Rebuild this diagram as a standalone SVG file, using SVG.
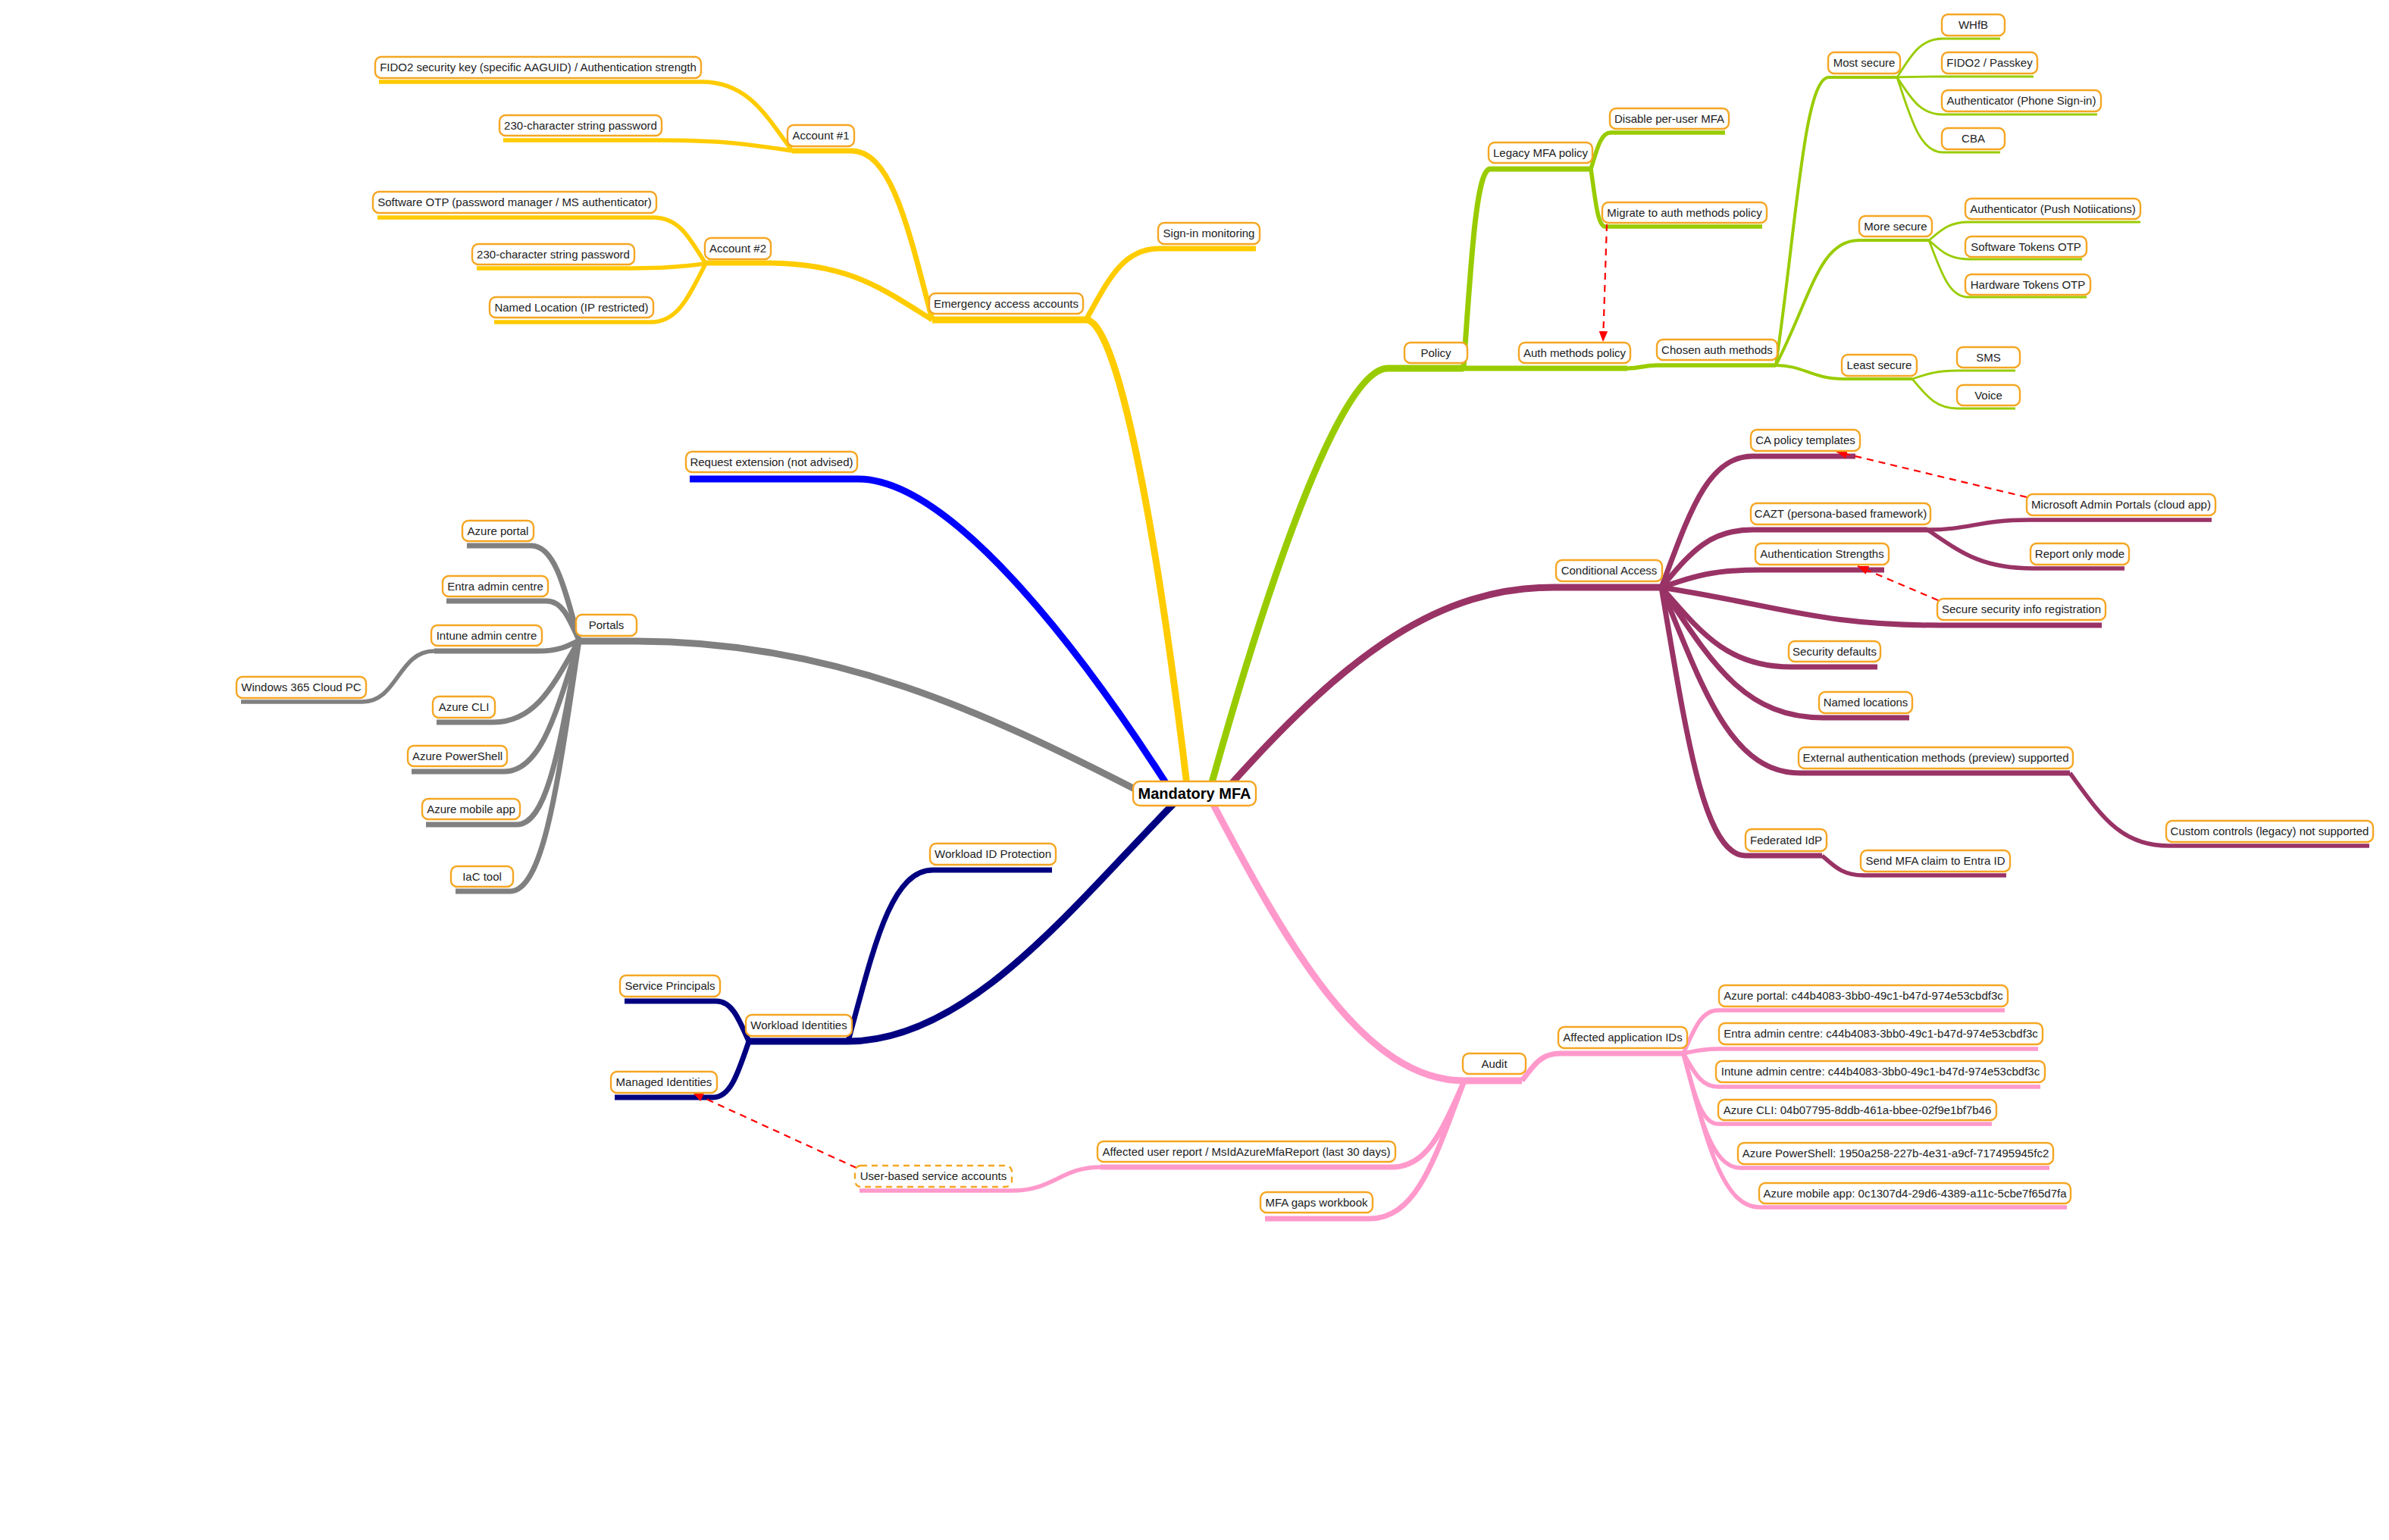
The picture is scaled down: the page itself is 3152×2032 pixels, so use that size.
<svg xmlns="http://www.w3.org/2000/svg" width="3152" height="2032" viewBox="0 0 3152 2032">
<style>
.bg{fill:#ffffff}
.c{fill:none;stroke-linecap:butt;stroke-linejoin:round}
.y{stroke:#FFCC00}.b{stroke:#0000FF}.gr{stroke:#808080}.n{stroke:#000080}.p{stroke:#FF99CC}.g{stroke:#99CC00}.m{stroke:#993366}
.l1{stroke-width:9}.l2{stroke-width:7}.l3{stroke-width:5.5}.l4{stroke-width:4}.l5{stroke-width:2.8}
.ref{fill:none;stroke:#FF0000;stroke-width:2.2;stroke-dasharray:9 7}
.box{fill:#ffffff;stroke:#F5A623;stroke-width:2.4}
.dash{stroke-dasharray:8 6}
.t{font-family:"Liberation Sans",Arial,sans-serif;font-size:15px;fill:#222222;text-anchor:middle}
.root{font-family:"Liberation Sans",Arial,sans-serif;font-size:20px;font-weight:bold;fill:#000000;text-anchor:middle}
</style>
<defs>
<marker id="arr" viewBox="0 0 12 10" refX="12" refY="5" markerWidth="14" markerHeight="12" markerUnits="userSpaceOnUse" orient="auto">
<path d="M0,0 L12,5 L0,10 z" fill="#FF0000"/>
</marker>
</defs>
<rect class="bg" x="0" y="0" width="3152" height="2032"/>
<g id="connectors">
<!-- yellow -->
<path class="c y l1" d="M1433,422 C1470,422 1520,650 1566,1036"/>
<path class="c y l1" d="M1230,422 H1433"/>
<path class="c y l2" d="M1433,422 C1462,370 1481,328 1530,328 H1657"/>
<path class="c y l2" d="M1230,422 C1198,299 1176,199 1123,199 H1045"/>
<path class="c y l2" d="M1230,422 C1164,381 1120,347 1011,347 H931"/>
<path class="c y l3" d="M1045,199 C1009,149 985,108 926,108 H500"/>
<path class="c y l3" d="M1045,199 C992,191 956,185 867,185 H664"/>
<path class="c y l3" d="M931,348 C910,314 896,287 862,287 H498"/>
<path class="c y l3" d="M931,348 C902,351 882,354 833,354 H629"/>
<path class="c y l3" d="M931,348 C909,390 895,425 859,425 H652"/>
<!-- blue -->
<path class="c b l1" d="M910,632 H1132 C1260,632 1440,880 1540,1036"/>
<!-- gray -->
<path class="c gr l1" d="M764,846 H840 C1100,846 1300,940 1499,1042"/>
<path class="c gr l2" d="M764,845 C745,776 732,720 701,720 H616"/>
<path class="c gr l2" d="M764,845 C751,816 742,793 721,793 H589"/>
<path class="c gr l2" d="M764,845 C748,853 737,859 710,859 H573"/>
<path class="c gr l2" d="M764,845 C730,904 707,953 651,953 H576"/>
<path class="c gr l2" d="M764,845 C734,940 714,1018 665,1018 H543"/>
<path class="c gr l2" d="M764,845 C739,979 723,1088 682,1088 H562"/>
<path class="c gr l2" d="M764,845 C737,1027 718,1176 673,1176 H601"/>
<path class="c gr l3" d="M573,859 C525,859 525,926 478,926 H318"/>
<!-- navy -->
<path class="c n l1" d="M988,1374 H1119 C1280,1374 1420,1190 1549,1060"/>
<path class="c n l2" d="M1119,1374 C1153,1250 1175,1148 1231,1148 H1388"/>
<path class="c n l2" d="M988,1374 C975,1345 966,1321 945,1321 H824"/>
<path class="c n l2" d="M988,1374 C974,1415 964,1448 941,1448 H811"/>
<!-- pink -->
<path class="c p l1" d="M1600,1060 C1700,1250 1800,1426 1932,1426 H2008"/>
<path class="c p l2" d="M2008,1426 C2023,1406 2033,1390 2058,1390 H2221"/>
<path class="c p l3" d="M2221,1390 C2235,1359 2244,1333 2267,1333 H2645"/>
<path class="c p l3" d="M2221,1390 C2235,1387 2244,1384 2267,1384 H2689"/>
<path class="c p l3" d="M2221,1390 C2235,1414 2244,1434 2267,1434 H2692"/>
<path class="c p l3" d="M2221,1390 C2235,1441 2244,1483 2267,1483 H2628"/>
<path class="c p l3" d="M2221,1390 C2243,1473 2258,1541 2296,1541 H2704"/>
<path class="c p l3" d="M2221,1390 C2251,1502 2271,1593 2322,1593 H2727"/>
<path class="c p l2" d="M1932,1426 C1904,1489 1884,1540 1837,1540 H1452"/>
<path class="c p l3" d="M1452,1540 C1400,1540 1390,1571 1335,1571 H1134"/>
<path class="c p l2" d="M1932,1426 C1894,1526 1870,1608 1807,1608 H1669"/>
<!-- green -->
<path class="c g l1" d="M1598,1036 C1650,850 1760,486 1831,486 H1931"/>
<path class="c g l2" d="M1931,486 H2147"/>
<path class="c g l3" d="M2147,486 C2165,486 2168,482 2186,482 H2343"/>
<path class="c g l2" d="M1931,486 C1941,341 1948,223 1966,223 H2099"/>
<path class="c g l3" d="M2099,223 C2107,197 2112,175 2125,175 H2276"/>
<path class="c g l3" d="M2099,223 C2105,265 2108,299 2118,299 H2325"/>
<path class="c g l4" d="M2343,482 C2370,300 2380,102 2413,102 H2503"/>
<path class="c g l4" d="M2343,482 C2390,390 2400,317 2453,317 H2545"/>
<path class="c g l4" d="M2343,482 C2380,482 2390,500 2433,500 H2523"/>
<path class="c g l5" d="M2503,102 C2521,74 2533,51 2563,51 H2639"/>
<path class="c g l5" d="M2503,102 C2521,101 2533,101 2563,101 H2683"/>
<path class="c g l5" d="M2503,102 C2521,129 2533,151 2563,151 H2767"/>
<path class="c g l5" d="M2503,102 C2521,156 2533,201 2563,201 H2639"/>
<path class="c g l5" d="M2545,317 C2561,304 2571,293 2597,293 H2824"/>
<path class="c g l5" d="M2545,317 C2561,331 2571,342 2597,342 H2747"/>
<path class="c g l5" d="M2545,317 C2561,358 2571,392 2597,392 H2753"/>
<path class="c g l5" d="M2523,500 C2541,494 2553,489 2583,489 H2659"/>
<path class="c g l5" d="M2523,500 C2541,521 2553,539 2583,539 H2659"/>
<!-- maroon -->
<path class="c m l1" d="M1623,1036 C1780,860 1900,775 2050,775 H2192"/>
<path class="c m l2" d="M2192,775 C2228,680 2252,602 2312,602 H2448"/>
<path class="c m l2" d="M2192,775 C2228,733 2252,699 2312,699 H2543"/>
<path class="c m l2" d="M2192,775 C2231,762 2256,752 2321,752 H2486"/>
<path class="c m l2" d="M2192,775 C2350,800 2400,825 2560,825 H2773"/>
<path class="c m l2" d="M2192,775 C2243,833 2278,880 2363,880 H2477"/>
<path class="c m l2" d="M2192,775 C2256,870 2299,947 2405,947 H2519"/>
<path class="c m l2" d="M2192,775 C2247,910 2284,1020 2375,1020 H2731"/>
<path class="c m l2" d="M2192,775 C2225,970 2248,1129 2303,1129 H2404"/>
<path class="c m l3" d="M2543,699 C2600,699 2610,686 2677,686 H2918"/>
<path class="c m l3" d="M2543,699 C2585,727 2612,750 2682,750 H2803"/>
<path class="c m l3" d="M2731,1020 C2770,1073 2796,1116 2861,1116 H3126"/>
<path class="c m l3" d="M2404,1129 C2420,1143 2431,1155 2459,1155 H2647"/>
<!-- cross references -->
<path class="ref" d="M2120,296 L2115,451" marker-end="url(#arr)"/>
<path class="ref" d="M2674,656 L2423,596" marker-end="url(#arr)"/>
<path class="ref" d="M2557,792 L2451,747" marker-end="url(#arr)"/>
<path class="ref" d="M1130,1541 L914,1442" marker-end="url(#arr)"/>
</g>
<g id="nodes">
<g id="n-root"><rect class="box" x="1495" y="1031" width="162" height="32" rx="9"/><text class="root" x="1576" y="1054">Mandatory MFA</text></g>
<g id="n-emergency"><rect class="box" x="1226" y="387" width="203" height="27" rx="8"/><text class="t" x="1327.5" y="405.5">Emergency access accounts</text></g>
<g id="n-signin"><rect class="box" x="1528" y="294" width="134" height="28" rx="8"/><text class="t" x="1595" y="313">Sign-in monitoring</text></g>
<g id="n-acc1"><rect class="box" x="1039" y="165" width="88" height="28" rx="8"/><text class="t" x="1083" y="184">Account #1</text></g>
<g id="n-fido2key"><rect class="box" x="495" y="75" width="430" height="28" rx="8"/><text class="t" x="710" y="94">FIDO2 security key (specific AAGUID) / Authentication strength</text></g>
<g id="n-pwd1"><rect class="box" x="659" y="152" width="214" height="27" rx="8"/><text class="t" x="766" y="170.5">230-character string password</text></g>
<g id="n-acc2"><rect class="box" x="930" y="314" width="87" height="28" rx="8"/><text class="t" x="973.5" y="333">Account #2</text></g>
<g id="n-otp"><rect class="box" x="492" y="253" width="374" height="28" rx="8"/><text class="t" x="679" y="272">Software OTP (password manager / MS authenticator)</text></g>
<g id="n-pwd2"><rect class="box" x="623" y="322" width="214" height="27" rx="8"/><text class="t" x="730" y="340.5">230-character string password</text></g>
<g id="n-namedloc"><rect class="box" x="646" y="392" width="216" height="27" rx="8"/><text class="t" x="754" y="410.5">Named Location (IP restricted)</text></g>
<g id="n-extension"><rect class="box" x="905" y="596" width="226" height="27" rx="8"/><text class="t" x="1018" y="614.5">Request extension (not advised)</text></g>
<g id="n-portals"><rect class="box" x="760" y="811" width="80" height="28" rx="8"/><text class="t" x="800" y="830">Portals</text></g>
<g id="n-azportal"><rect class="box" x="610" y="687" width="94" height="27" rx="8"/><text class="t" x="657" y="705.5">Azure portal</text></g>
<g id="n-entra"><rect class="box" x="584" y="760" width="139" height="27" rx="8"/><text class="t" x="653.5" y="778.5">Entra admin centre</text></g>
<g id="n-intune"><rect class="box" x="569" y="825" width="146" height="27" rx="8"/><text class="t" x="642" y="843.5">Intune admin centre</text></g>
<g id="n-w365"><rect class="box" x="312" y="893" width="171" height="28" rx="8"/><text class="t" x="397.5" y="912">Windows 365 Cloud PC</text></g>
<g id="n-azcli"><rect class="box" x="571" y="919" width="82" height="28" rx="8"/><text class="t" x="612" y="938">Azure CLI</text></g>
<g id="n-azps"><rect class="box" x="538" y="984" width="131" height="27" rx="8"/><text class="t" x="603.5" y="1002.5">Azure PowerShell</text></g>
<g id="n-azmobile"><rect class="box" x="557" y="1054" width="129" height="27" rx="8"/><text class="t" x="621.5" y="1072.5">Azure mobile app</text></g>
<g id="n-iac"><rect class="box" x="595" y="1143" width="82" height="27" rx="8"/><text class="t" x="636" y="1161.5">IaC tool</text></g>
<g id="n-wlprot"><rect class="box" x="1227" y="1113" width="166" height="28" rx="8"/><text class="t" x="1310" y="1132">Workload ID Protection</text></g>
<g id="n-wlid"><rect class="box" x="984" y="1339" width="140" height="28" rx="8"/><text class="t" x="1054" y="1358">Workload Identities</text></g>
<g id="n-sp"><rect class="box" x="818" y="1287" width="132" height="28" rx="8"/><text class="t" x="884" y="1306">Service Principals</text></g>
<g id="n-mi"><rect class="box" x="806" y="1414" width="140" height="28" rx="8"/><text class="t" x="876" y="1433">Managed Identities</text></g>
<g id="n-userbased"><rect class="box dash" x="1128" y="1538" width="207" height="28" rx="8"/><text class="t" x="1231.5" y="1557">User-based service accounts</text></g>
<g id="n-userreport"><rect class="box" x="1448" y="1506" width="393" height="27" rx="8"/><text class="t" x="1644.5" y="1524.5">Affected user report / MsIdAzureMfaReport (last 30 days)</text></g>
<g id="n-gaps"><rect class="box" x="1663" y="1573" width="148" height="27" rx="8"/><text class="t" x="1737" y="1591.5">MFA gaps workbook</text></g>
<g id="n-audit"><rect class="box" x="1930" y="1390" width="83" height="27" rx="8"/><text class="t" x="1971.5" y="1408.5">Audit</text></g>
<g id="n-appids"><rect class="box" x="2056" y="1355" width="170" height="28" rx="8"/><text class="t" x="2141" y="1374">Affected application IDs</text></g>
<g id="n-id-portal"><rect class="box" x="2268" y="1300" width="381" height="28" rx="8"/><text class="t" x="2458.5" y="1319">Azure portal: c44b4083-3bb0-49c1-b47d-974e53cbdf3c</text></g>
<g id="n-id-entra"><rect class="box" x="2268" y="1350" width="427" height="28" rx="8"/><text class="t" x="2481.5" y="1369">Entra admin centre: c44b4083-3bb0-49c1-b47d-974e53cbdf3c</text></g>
<g id="n-id-intune"><rect class="box" x="2264" y="1400" width="434" height="28" rx="8"/><text class="t" x="2481" y="1419">Intune admin centre: c44b4083-3bb0-49c1-b47d-974e53cbdf3c</text></g>
<g id="n-id-cli"><rect class="box" x="2267" y="1451" width="367" height="27" rx="8"/><text class="t" x="2450.5" y="1469.5">Azure CLI: 04b07795-8ddb-461a-bbee-02f9e1bf7b46</text></g>
<g id="n-id-ps"><rect class="box" x="2293" y="1508" width="416" height="28" rx="8"/><text class="t" x="2501" y="1527">Azure PowerShell: 1950a258-227b-4e31-a9cf-717495945fc2</text></g>
<g id="n-id-mobile"><rect class="box" x="2321" y="1561" width="411" height="27" rx="8"/><text class="t" x="2526.5" y="1579.5">Azure mobile app: 0c1307d4-29d6-4389-a11c-5cbe7f65d7fa</text></g>
<g id="n-policy"><rect class="box" x="1853" y="452" width="83" height="27" rx="8"/><text class="t" x="1894.5" y="470.5">Policy</text></g>
<g id="n-legacy"><rect class="box" x="1964" y="188" width="137" height="27" rx="8"/><text class="t" x="2032.5" y="206.5">Legacy MFA policy</text></g>
<g id="n-disable"><rect class="box" x="2124" y="143" width="157" height="27" rx="8"/><text class="t" x="2202.5" y="161.5">Disable per-user MFA</text></g>
<g id="n-migrate"><rect class="box" x="2114" y="267" width="217" height="27" rx="8"/><text class="t" x="2222.5" y="285.5">Migrate to auth methods policy</text></g>
<g id="n-authmethods"><rect class="box" x="2004" y="452" width="147" height="27" rx="8"/><text class="t" x="2077.5" y="470.5">Auth methods policy</text></g>
<g id="n-chosen"><rect class="box" x="2186" y="448" width="159" height="27" rx="8"/><text class="t" x="2265.5" y="466.5">Chosen auth methods</text></g>
<g id="n-most"><rect class="box" x="2412" y="69" width="95" height="28" rx="8"/><text class="t" x="2459.5" y="88">Most secure</text></g>
<g id="n-whfb"><rect class="box" x="2562" y="19" width="83" height="28" rx="8"/><text class="t" x="2603.5" y="38">WHfB</text></g>
<g id="n-fido2pk"><rect class="box" x="2562" y="69" width="126" height="28" rx="8"/><text class="t" x="2625" y="88">FIDO2 / Passkey</text></g>
<g id="n-phone"><rect class="box" x="2562" y="119" width="210" height="28" rx="8"/><text class="t" x="2667" y="138">Authenticator (Phone Sign-in)</text></g>
<g id="n-cba"><rect class="box" x="2562" y="169" width="83" height="28" rx="8"/><text class="t" x="2603.5" y="188">CBA</text></g>
<g id="n-more"><rect class="box" x="2453" y="285" width="96" height="27" rx="8"/><text class="t" x="2501" y="303.5">More secure</text></g>
<g id="n-push"><rect class="box" x="2593" y="262" width="231" height="27" rx="8"/><text class="t" x="2708.5" y="280.5">Authenticator (Push Notiications)</text></g>
<g id="n-swotp"><rect class="box" x="2593" y="312" width="160" height="27" rx="8"/><text class="t" x="2673" y="330.5">Software Tokens OTP</text></g>
<g id="n-hwotp"><rect class="box" x="2593" y="362" width="165" height="27" rx="8"/><text class="t" x="2675.5" y="380.5">Hardware Tokens OTP</text></g>
<g id="n-least"><rect class="box" x="2430" y="468" width="99" height="28" rx="8"/><text class="t" x="2479.5" y="487">Least secure</text></g>
<g id="n-sms"><rect class="box" x="2582" y="458" width="83" height="27" rx="8"/><text class="t" x="2623.5" y="476.5">SMS</text></g>
<g id="n-voice"><rect class="box" x="2582" y="508" width="83" height="27" rx="8"/><text class="t" x="2623.5" y="526.5">Voice</text></g>
<g id="n-ca"><rect class="box" x="2053" y="739" width="140" height="28" rx="8"/><text class="t" x="2123" y="758">Conditional Access</text></g>
<g id="n-catemplates"><rect class="box" x="2310" y="567" width="144" height="28" rx="8"/><text class="t" x="2382" y="586">CA policy templates</text></g>
<g id="n-cazt"><rect class="box" x="2310" y="664" width="237" height="28" rx="8"/><text class="t" x="2428.5" y="683">CAZT (persona-based framework)</text></g>
<g id="n-authstr"><rect class="box" x="2316" y="717" width="176" height="28" rx="8"/><text class="t" x="2404" y="736">Authentication Strengths</text></g>
<g id="n-msadmin"><rect class="box" x="2674" y="652" width="249" height="28" rx="8"/><text class="t" x="2798.5" y="671">Microsoft Admin Portals (cloud app)</text></g>
<g id="n-reportonly"><rect class="box" x="2679" y="717" width="130" height="28" rx="8"/><text class="t" x="2744" y="736">Report only mode</text></g>
<g id="n-securereg"><rect class="box" x="2556" y="790" width="222" height="28" rx="8"/><text class="t" x="2667" y="809">Secure security info registration</text></g>
<g id="n-secdefaults"><rect class="box" x="2360" y="846" width="121" height="27" rx="8"/><text class="t" x="2420.5" y="864.5">Security defaults</text></g>
<g id="n-namedlocs"><rect class="box" x="2400" y="913" width="123" height="28" rx="8"/><text class="t" x="2461.5" y="932">Named locations</text></g>
<g id="n-external"><rect class="box" x="2373" y="986" width="362" height="28" rx="8"/><text class="t" x="2554" y="1005">External authentication methods (preview) supported</text></g>
<g id="n-custom"><rect class="box" x="2858" y="1083" width="273" height="28" rx="8"/><text class="t" x="2994.5" y="1102">Custom controls (legacy) not supported</text></g>
<g id="n-federated"><rect class="box" x="2303" y="1094" width="107" height="29" rx="8"/><text class="t" x="2356.5" y="1113.5">Federated IdP</text></g>
<g id="n-sendmfa"><rect class="box" x="2455" y="1122" width="197" height="28" rx="8"/><text class="t" x="2553.5" y="1141">Send MFA claim to Entra ID</text></g>
</g>
</svg>
